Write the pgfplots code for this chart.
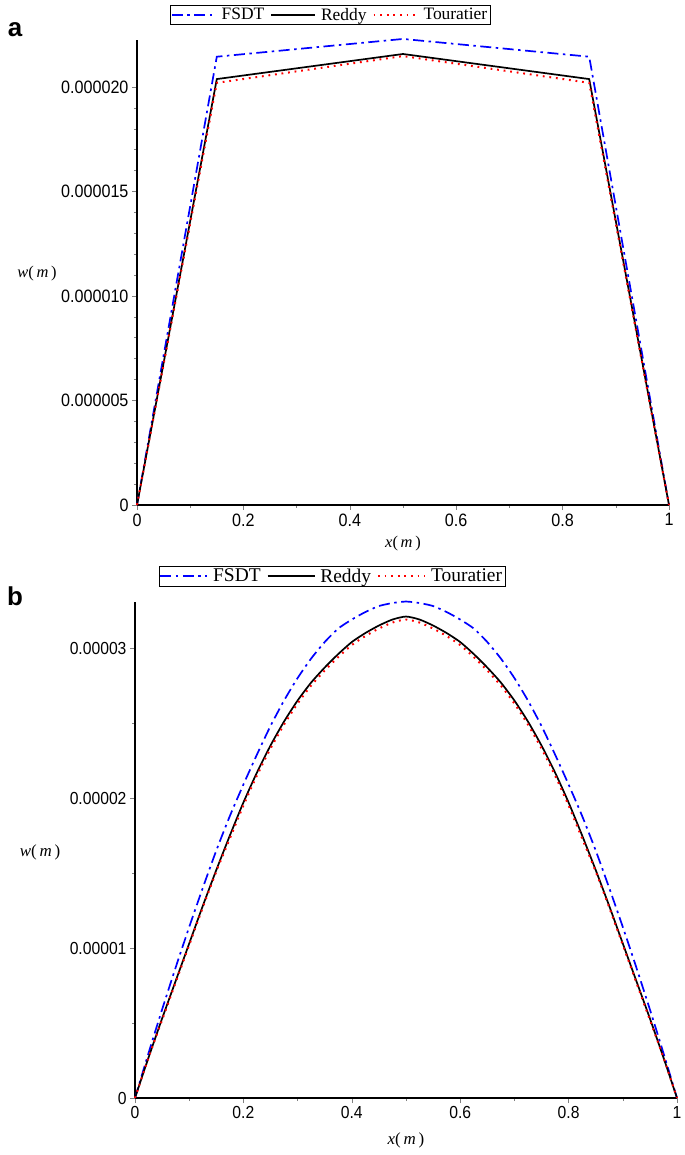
\documentclass[border=0pt]{standalone}
\usepackage{fontspec}
\setmainfont{Liberation Serif}
\newfontfamily\tickfont[FakeStretch=0.9]{Liberation Sans}
\newfontfamily\panelfont{Liberation Sans}
\usepackage{pgfplots}
\pgfplotsset{compat=1.18}
\definecolor{fblue}{RGB}{0,0,255}
\definecolor{tred}{RGB}{255,0,0}
\pgfplotsset{
  mystyle/.style={
    scale only axis, axis lines*=left, xmin=0, xmax=1, ymin=0,
    clip=false,
    axis line style={black, line width=1.3bp},
    tick align=outside, major tick length=5bp, minor tick length=3bp,
    every tick/.style={gray, line width=0.6bp},
    xtick={0,0.2,0.4,0.6,0.8,1}, minor x tick num=1,
    xticklabels={0,0.2,0.4,0.6,0.8,1},
    scaled y ticks=false, scaled x ticks=false,
    legend cell align=left,
  },
}
\begin{document}
\begin{tikzpicture}
\path[use as bounding box] (0,0) rectangle (685bp,1155bp);
\node[font=\panelfont\bfseries\fontsize{26}{26}\selectfont] at (15bp,1125bp) {a};
\node[font=\panelfont\bfseries\fontsize{26}{26}\selectfont] at (15bp,559bp) {b};

% ---------------- panel a ----------------
\begin{axis}[mystyle,
  at={(137bp,650bp)}, anchor=south west, width=532bp, height=465bp,
  ymax=22.25e-6,
  ytick={0,5e-6,1e-5,1.5e-5,2e-5},
  yticklabels={0,0.000005,0.000010,0.000015,0.000020},
  minor y tick num=4,
  tick label style={font=\tickfont\fontsize{18}{18}\selectfont},
  xlabel={\fontsize{16.5}{16.5}\selectfont\textit{x}(\,\textit{m}\,)},
  ylabel={\fontsize{16.5}{16.5}\selectfont\textit{w}(\,\textit{m}\,)},
  xlabel style={at={(rel axis cs:0.5,-0.083)}, anchor=center},
  ylabel style={at={(rel axis cs:-0.188,0.497)}, anchor=center, rotate=-90},
  legend image code/.code={\draw[#1] (0bp,0bp) -- (44bp,0bp);},
  legend style={at={(rel axis cs:0.363,1.054)}, anchor=center, legend columns=3,
    inner sep=0.8bp,
    font=\fontsize{17.5}{17.5}\selectfont,
    /tikz/every odd column/.append style={column sep=3bp},
    /tikz/every even column/.append style={column sep=4bp}},
]
\addplot[color=fblue, line width=1.7bp, dash pattern=on 11bp off 4.5bp on 2.5bp off 4.5bp] coordinates {(0,0) (0.15,21.45e-6) (0.5,22.3e-6) (0.85,21.45e-6) (1,0)};
\addlegendentry{FSDT}
\addplot[color=black, line width=1.7bp] coordinates {(0,0) (0.15,20.38e-6) (0.5,21.58e-6) (0.85,20.38e-6) (1,0)};
\addlegendentry{Reddy}
\addplot[color=tred, line width=2bp, dash pattern=on 1.8bp off 4.8bp] coordinates {(0,0) (0.15,20.2e-6) (0.5,21.48e-6) (0.85,20.2e-6) (1,0)};
\addlegendentry{Touratier}
\end{axis}

% ---------------- panel b ----------------
\begin{axis}[mystyle,
  at={(135bp,57bp)}, anchor=south west, width=542bp, height=496bp,
  ymax=3.307e-5,
  ytick={0,1e-5,2e-5,3e-5},
  yticklabels={0,0.00001,0.00002,0.00003},
  minor y tick num=1,
  tick label style={font=\tickfont\fontsize{17.5}{17.5}\selectfont},
  xlabel={\fontsize{17}{17}\selectfont\textit{x}(\,\textit{m}\,)},
  ylabel={\fontsize{17}{17}\selectfont\textit{w}(\,\textit{m}\,)},
  xlabel style={at={(rel axis cs:0.5,-0.085)}, anchor=center},
  ylabel style={at={(rel axis cs:-0.175,0.496)}, anchor=center, rotate=-90},
  legend image code/.code={\draw[#1] (0bp,0bp) -- (47bp,0bp);},
  legend style={at={(rel axis cs:0.363,1.052)}, anchor=center, legend columns=3,
    inner sep=0.8bp,
    font=\fontsize{19.5}{19.5}\selectfont,
    /tikz/every odd column/.append style={column sep=3bp},
    /tikz/every even column/.append style={column sep=4bp}},
]
\addplot[color=fblue, line width=1.7bp, dash pattern=on 11bp off 4.5bp on 2.5bp off 4.5bp, smooth, tension=0.4] coordinates {
(0,0) (0.025,0.30e-5) (0.05,0.59e-5) (0.075,0.87e-5) (0.1,1.14e-5) (0.125,1.40e-5)
(0.15,1.65e-5) (0.175,1.88e-5) (0.2,2.09e-5) (0.225,2.29e-5) (0.25,2.48e-5)
(0.275,2.65e-5) (0.3,2.80e-5) (0.325,2.93e-5) (0.35,3.04e-5) (0.375,3.13e-5)
(0.4,3.19e-5) (0.425,3.24e-5) (0.45,3.28e-5) (0.475,3.30e-5) (0.5,3.31e-5)
(0.525,3.30e-5) (0.55,3.28e-5) (0.575,3.24e-5) (0.6,3.19e-5) (0.625,3.13e-5)
(0.65,3.04e-5) (0.675,2.93e-5) (0.7,2.80e-5) (0.725,2.65e-5) (0.75,2.48e-5)
(0.775,2.29e-5) (0.8,2.09e-5) (0.825,1.88e-5) (0.85,1.65e-5) (0.875,1.40e-5)
(0.9,1.14e-5) (0.925,0.87e-5) (0.95,0.59e-5) (0.975,0.30e-5) (1,0)};
\addlegendentry{FSDT}
\addplot[color=black, line width=1.7bp, smooth, tension=0.4] coordinates {
(0,0) (0.025,0.27e-5) (0.05,0.53e-5) (0.075,0.78e-5) (0.1,1.03e-5) (0.125,1.28e-5)
(0.15,1.52e-5) (0.175,1.75e-5) (0.2,1.97e-5) (0.225,2.17e-5) (0.25,2.35e-5)
(0.275,2.51e-5) (0.3,2.65e-5) (0.325,2.77e-5) (0.35,2.87e-5) (0.375,2.96e-5)
(0.4,3.04e-5) (0.425,3.10e-5) (0.45,3.15e-5) (0.475,3.19e-5) (0.5,3.21e-5)
(0.525,3.19e-5) (0.55,3.15e-5) (0.575,3.10e-5) (0.6,3.04e-5) (0.625,2.96e-5)
(0.65,2.87e-5) (0.675,2.77e-5) (0.7,2.65e-5) (0.725,2.51e-5) (0.75,2.35e-5)
(0.775,2.17e-5) (0.8,1.97e-5) (0.825,1.75e-5) (0.85,1.52e-5) (0.875,1.28e-5)
(0.9,1.03e-5) (0.925,0.78e-5) (0.95,0.53e-5) (0.975,0.27e-5) (1,0)};
\addlegendentry{Reddy}
\addplot[color=tred, line width=2bp, dash pattern=on 1.8bp off 4.8bp, smooth, tension=0.4] coordinates {
(0,0) (0.025,0.27e-5) (0.05,0.52e-5) (0.075,0.77e-5) (0.1,1.02e-5) (0.125,1.27e-5)
(0.15,1.51e-5) (0.175,1.73e-5) (0.2,1.95e-5) (0.225,2.15e-5) (0.25,2.33e-5)
(0.275,2.49e-5) (0.3,2.63e-5) (0.325,2.75e-5) (0.35,2.85e-5) (0.375,2.94e-5)
(0.4,3.02e-5) (0.425,3.08e-5) (0.45,3.13e-5) (0.475,3.17e-5) (0.5,3.19e-5)
(0.525,3.17e-5) (0.55,3.13e-5) (0.575,3.08e-5) (0.6,3.02e-5) (0.625,2.94e-5)
(0.65,2.85e-5) (0.675,2.75e-5) (0.7,2.63e-5) (0.725,2.49e-5) (0.75,2.33e-5)
(0.775,2.15e-5) (0.8,1.95e-5) (0.825,1.73e-5) (0.85,1.51e-5) (0.875,1.27e-5)
(0.9,1.02e-5) (0.925,0.77e-5) (0.95,0.52e-5) (0.975,0.27e-5) (1,0)};
\addlegendentry{Touratier}
\end{axis}
\end{tikzpicture}
\end{document}
